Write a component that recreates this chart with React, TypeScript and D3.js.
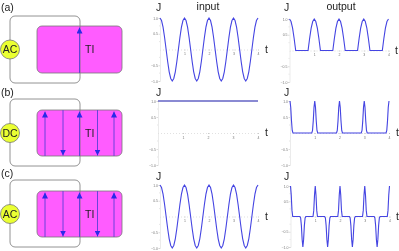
import React, { useEffect, useRef } from 'react';
import * as d3 from 'd3';

// curves (t in periods, J normalised to the peak)
const sineT = d3.range(0, 65).map((i) => i / 16);
const inputAcJ = [
  1, 0.92, 0.71, 0.38, 0, -0.38, -0.71, -0.92, -1, -0.92, -0.71, -0.38, 0, 0.38, 0.71, 0.92,
  1, 0.92, 0.71, 0.38, 0, -0.38, -0.71, -0.92, -1, -0.92, -0.71, -0.38, 0, 0.38, 0.71, 0.92,
  1, 0.92, 0.71, 0.38, 0, -0.38, -0.71, -0.92, -1, -0.92, -0.71, -0.38, 0, 0.38, 0.71, 0.92,
  1, 0.92, 0.71, 0.38, 0, -0.38, -0.71, -0.92, -1, -0.92, -0.71, -0.38, 0, 0.38, 0.71, 0.92,
  1,
];
const outputAcJ = [
  1, 0.92, 0.71, 0.38, 0, 0, 0, 0, 0, 0, 0, 0, 0, 0.38, 0.71, 0.92,
  1, 0.92, 0.71, 0.38, 0, 0, 0, 0, 0, 0, 0, 0, 0, 0.38, 0.71, 0.92,
  1, 0.92, 0.71, 0.38, 0, 0, 0, 0, 0, 0, 0, 0, 0, 0.38, 0.71, 0.92,
  1, 0.92, 0.71, 0.38, 0, 0, 0, 0, 0, 0, 0, 0, 0, 0.38, 0.71, 0.92,
  1,
];
const dcT = [0, 4];
const inputDcJ = [1, 1];
const spikeT = [
  0, 0.03, 0.06, 0.09, 0.12, 0.88, 0.91, 0.94, 0.97, 1, 1.03, 1.06, 1.09, 1.12,
  1.88, 1.91, 1.94, 1.97, 2, 2.03, 2.06, 2.09, 2.12,
  2.88, 2.91, 2.94, 2.97, 3, 3.03, 3.06, 3.09, 3.12,
  3.88, 3.91, 3.94, 3.97, 4,
];
const outputDcJ = [
  1, 0.8, 0.38, 0.08, 0, 0, 0.08, 0.38, 0.8, 1, 0.8, 0.38, 0.08, 0,
  0, 0.08, 0.38, 0.8, 1, 0.8, 0.38, 0.08, 0,
  0, 0.08, 0.38, 0.8, 1, 0.8, 0.38, 0.08, 0,
  0, 0.08, 0.38, 0.8, 1,
];
const bipolarT = [
  0, 0.03, 0.06, 0.09, 0.38, 0.41, 0.44, 0.47, 0.5, 0.53, 0.56, 0.59, 0.62,
  0.91, 0.94, 0.97, 1, 1.03, 1.06, 1.09, 1.38, 1.41, 1.44, 1.47, 1.5, 1.53, 1.56, 1.59, 1.62,
  1.91, 1.94, 1.97, 2, 2.03, 2.06, 2.09, 2.38, 2.41, 2.44, 2.47, 2.5, 2.53, 2.56, 2.59, 2.62,
  2.91, 2.94, 2.97, 3, 3.03, 3.06, 3.09, 3.38, 3.41, 3.44, 3.47, 3.5, 3.53, 3.56, 3.59, 3.62,
  3.91, 3.94, 3.97, 4,
];
const outputBipolarJ = [
  1, 0.7, 0.2, 0, 0, -0.05, -0.3, -0.75, -1, -0.75, -0.3, -0.05, 0,
  0, 0.2, 0.7, 1, 0.7, 0.2, 0, 0, -0.05, -0.3, -0.75, -1, -0.75, -0.3, -0.05, 0,
  0, 0.2, 0.7, 1, 0.7, 0.2, 0, 0, -0.05, -0.3, -0.75, -1, -0.75, -0.3, -0.05, 0,
  0, 0.2, 0.7, 1, 0.7, 0.2, 0, 0, -0.05, -0.3, -0.75, -1, -0.75, -0.3, -0.05, 0,
  0, 0.2, 0.7, 1,
];

const xTicks = [1, 2, 3, 4];
const yTicks = [-1, -0.5, 0.5, 1];
const yMinorTicks = [-0.75, -0.25, 0.25, 0.75];
const rowLetters = ['(a)', '(b)', '(c)'];
const sources = ['AC', 'DC', 'AC'];
const arrowRows = [
  [1],
  [1, -1, 1, -1, 1],
  [1, -1, 1, -1, 1],
];
const arrowXs = [45, 63, 79.5, 97.5, 114];

// where things sit on the page
const rows = [
  { letterY: 11, top: 16, bottom: 83, tiTop: 26, tiBottom: 73, cy: 49.5 },
  { letterY: 96, top: 99, bottom: 166, tiTop: 110, tiBottom: 156, cy: 133 },
  { letterY: 177, top: 180, bottom: 247, tiTop: 191, tiBottom: 237, cy: 214 },
];
const plots = [
  { t: sineT, j: inputAcJ, x0: 160, x1: 258, y0: 18, y1: 81, jx: 156, jy: 11, tx: 265, color: '#4444e2' },
  { t: sineT, j: outputAcJ, x0: 289.5, x1: 388.5, y0: 19, y1: 82, jx: 284, jy: 11, tx: 395, color: '#4444e2' },
  { t: dcT, j: inputDcJ, x0: 158, x1: 258, y0: 101, y1: 165, jx: 156, jy: 96, tx: 265, color: '#1414a8' },
  { t: spikeT, j: outputDcJ, x0: 290, x1: 389, y0: 101, y1: 165, jx: 284, jy: 96, tx: 396, color: '#4444e2' },
  { t: sineT, j: inputAcJ, x0: 160, x1: 258, y0: 185, y1: 248, jx: 156, jy: 180, tx: 265, color: '#4444e2' },
  { t: bipolarT, j: outputBipolarJ, x0: 290.5, x1: 389.5, y0: 186, y1: 247, jx: 284, jy: 180, tx: 396, color: '#4444e2' },
];

const FONT = 'Liberation Sans, Arial, sans-serif';
const INK = '#222';

function drawPlot(g: d3.Selection<SVGGElement, unknown, null, undefined>, p: (typeof plots)[number]) {
  const x = d3.scaleLinear().domain([0, 4]).range([p.x0, p.x1]);
  const y = d3.scaleLinear().domain([-1, 1]).range([p.y1, p.y0]);

  const xAxis = d3.axisBottom(x).tickValues(xTicks).tickFormat(d3.format('d')).tickSize(1);
  const ax = g.append('g').attr('transform', `translate(0,${y(0)})`).call(xAxis);
  ax.select('.domain').attr('stroke', '#ccc').attr('stroke-width', 0.6).attr('stroke-dasharray', '1 2');
  ax.selectAll('line').attr('stroke', '#999').attr('stroke-width', 0.5);
  ax.selectAll('text').attr('font-size', 3.5).attr('fill', '#777').attr('dy', 1.5);

  const yAxis = d3.axisLeft(y).tickValues(yTicks).tickFormat(d3.format('.1f')).tickSize(1.5).tickPadding(0.5);
  const ay = g.append('g').attr('transform', `translate(${p.x0},0)`).call(yAxis);
  ay.select('.domain').attr('stroke', '#ddd').attr('stroke-width', 0.6);
  ay.selectAll('line').attr('stroke', '#bbb').attr('stroke-width', 0.5);
  ay.selectAll('text').attr('font-size', 3.5).attr('fill', '#777');
  g.append('g')
    .selectAll('line')
    .data(yMinorTicks)
    .join('line')
    .attr('x1', p.x0 - 1)
    .attr('x2', p.x0)
    .attr('y1', (d) => y(d))
    .attr('y2', (d) => y(d))
    .attr('stroke', '#ccc')
    .attr('stroke-width', 0.5);

  const line = d3
    .line<number>()
    .x((_, i) => x(p.t[i]))
    .y((d) => y(d));
  g.append('path').attr('d', line(p.j)).attr('fill', 'none').attr('stroke', p.color).attr('stroke-width', 1.1);

  g.append('text').attr('x', p.jx).attr('y', p.jy).attr('font-size', 10.5).attr('fill', INK).text('J');
  g.append('text').attr('x', p.tx).attr('y', y(0) + 3).attr('font-size', 10.5).attr('fill', INK).text('t');
}

export default function App() {
  const ref = useRef<SVGGElement>(null);

  useEffect(() => {
    const root = d3.select(ref.current!);
    root.selectAll('*').remove();
    plots.forEach((p) => drawPlot(root.append('g'), p));
  }, []);

  return (
    <svg width={399} height={251} style={{ position: 'absolute', left: 0, top: 0, background: '#fff' }} fontFamily={FONT}>
      <defs>
        <marker id="head" viewBox="0 0 6 6" refX={6} refY={3} markerWidth={6} markerHeight={6} markerUnits="userSpaceOnUse" orient="auto">
          <path d="M0,0L6,3L0,6Z" fill="#2a2ae8" />
        </marker>
        <filter id="soft" x="0" y="0" width="100%" height="100%">
          <feGaussianBlur stdDeviation={0.3} />
        </filter>
      </defs>
      <g filter="url(#soft)">
        {rows.map((r, i) => (
          <g key={i}>
            <text x={1} y={r.letterY} fontSize={10.5} fill={INK}>{rowLetters[i]}</text>
            <rect x={37} y={r.tiTop} width={85} height={r.tiBottom - r.tiTop} rx={5} fill="#ff5cff" stroke="#777" strokeWidth={0.8} />
            <rect x={10} y={r.top} width={70} height={r.bottom - r.top} rx={5} fill="none" stroke="#777" strokeWidth={0.8} />
            {arrowRows[i].map((dir, k) => {
              const ax = arrowRows[i].length === 1 ? arrowXs[2] : arrowXs[k];
              return (
                <line
                  key={k}
                  x1={ax}
                  x2={ax}
                  y1={dir > 0 ? r.tiBottom : r.tiTop}
                  y2={dir > 0 ? r.tiTop + 1.5 : r.tiBottom - 0.5}
                  stroke="#5a3fd8"
                  strokeWidth={0.9}
                  markerEnd="url(#head)"
                />
              );
            })}
            <text x={85} y={r.cy + 3.5} fontSize={10.5} fill={INK}>TI</text>
            <circle cx={10} cy={r.cy} r={9.5} fill="#eaff33" stroke="#777" strokeWidth={0.8} />
            <text x={10} y={r.cy + 3.5} fontSize={10.5} fill={INK} textAnchor="middle">{sources[i]}</text>
          </g>
        ))}
        <text x={208} y={10} fontSize={10.5} fill={INK} textAnchor="middle">input</text>
        <text x={341} y={10} fontSize={10.5} fill={INK} textAnchor="middle">output</text>
        <g ref={ref} />
      </g>
    </svg>
  );
}
